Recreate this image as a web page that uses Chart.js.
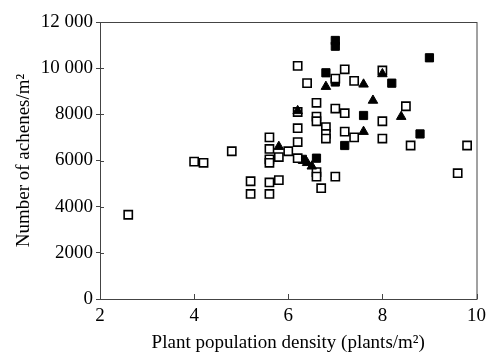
<!DOCTYPE html>
<html>
<head>
<meta charset="utf-8">
<script src="https://cdn.jsdelivr.net/npm/chart.js@4.4.1/dist/chart.umd.min.js"></script>
<style>
  html, body { margin: 0; padding: 0; background: #fff; }
  #wrap { width: 492px; height: 354px; }
</style>
</head>
<body>
<div id="wrap"><canvas id="chart" width="492" height="354"></canvas></div>
<script>
// open squares
const openX = [2.6, 4.0, 4.2, 4.8, 5.2, 5.2, 5.6, 5.6, 5.6, 5.6, 5.6, 5.6, 5.8, 5.8, 6.0,
    6.2, 6.2, 6.2, 6.2, 6.2, 6.4, 6.6, 6.6, 6.6, 6.6, 6.6, 6.7, 6.8, 6.8, 6.8,
    7.0, 7.0, 7.0, 7.2, 7.2, 7.2, 7.4, 7.4, 8.0, 8.0, 8.0, 8.5, 8.6, 9.6, 9.8];
const openY = [3650, 5950, 5900, 6400, 5100, 4550, 7000, 6500, 6050, 5900, 5050, 4550, 6150, 5150, 6400,
    10100, 8100, 7400, 6800, 6100, 9350, 8500, 7900, 7700, 5500, 5300, 4800, 7450, 7150, 6950,
    9550, 8250, 5300, 9950, 8050, 7250, 9450, 7000, 9900, 7700, 6950, 8350, 6650, 5450, 6650];

// filled squares
const filledX = [6.3, 6.6, 6.8, 7.0, 7.0, 7.0, 7.2, 7.6, 8.2, 8.8, 9.0];
const filledY = [6050, 6100, 9800, 11200, 10950, 9400, 6650, 7950, 9350, 7150, 10450];

// filled triangles
const triX = [5.8, 6.2, 6.4, 6.5, 6.8, 7.6, 7.6, 7.8, 8.0, 8.4];
const triY = [6600, 8150, 5900, 5750, 9200, 9300, 7250, 8600, 9750, 7900];

const xTickLabels = ['2', '4', '6', '8', '10'];
const yTickLabels = ['0', '2000', '4000', '6000', '8000', '10 000', '12 000'];

const toPoints = (xs, ys) => xs.map((x, i) => ({ x: x, y: ys[i] }));

const FONT = 'Liberation Serif';
const AXIS = '#444';

// frame round the plot plus inward tick marks
const framePlugin = {
    id: 'frame',
    beforeDatasetsDraw(chart) {
        const { ctx, chartArea: a, scales } = chart;
        ctx.save();
        ctx.strokeStyle = AXIS;
        ctx.lineWidth = 1;
        ctx.strokeRect(a.left + 0.5, a.top + 0.5, a.right - a.left, a.bottom - a.top);
        ctx.beginPath();
        scales.x.ticks.forEach(t => {
            const px = Math.round(scales.x.getPixelForValue(t.value)) + 0.5;
            ctx.moveTo(px, a.bottom);
            ctx.lineTo(px, a.bottom - 5);
        });
        scales.y.ticks.forEach(t => {
            const py = Math.round(scales.y.getPixelForValue(t.value)) + 0.5;
            ctx.moveTo(a.left, py);
            ctx.lineTo(a.left + 4, py);
        });
        ctx.stroke();
        ctx.restore();
    }
};

new Chart(document.getElementById('chart'), {
    type: 'scatter',
    data: {
        datasets: [
            {
                label: 'triangles',
                data: toPoints(triX, triY),
                pointStyle: 'triangle',
                radius: 5.5,
                backgroundColor: '#000',
                borderColor: '#000',
                borderWidth: 1
            },
            {
                label: 'open',
                data: toPoints(openX, openY),
                pointStyle: 'rect',
                radius: 5.8,
                backgroundColor: '#fff',
                borderColor: '#000',
                borderWidth: 1.6
            },
            {
                label: 'filled',
                data: toPoints(filledX, filledY),
                pointStyle: 'rect',
                radius: 5.8,
                backgroundColor: '#000',
                borderColor: '#000',
                borderWidth: 1
            }
        ]
    },
    options: {
        responsive: false,
        animation: false,
        devicePixelRatio: 1,
        layout: { padding: { top: 22, right: 13, bottom: 0, left: 0 } },
        plugins: {
            legend: { display: false },
            tooltip: { enabled: false }
        },
        scales: {
            x: {
                type: 'linear',
                min: 2,
                max: 10,
                afterFit: (scale) => { scale.height = 55; },
                border: { display: false },
                grid: { drawOnChartArea: false, drawTicks: false },
                ticks: {
                    stepSize: 2,
                    padding: 6,
                    color: '#000',
                    font: { family: FONT, size: 19 },
                    callback: (v, i) => xTickLabels[i]
                },
                title: {
                    display: true,
                    text: 'Plant population density (plants/m²)',
                    color: '#000',
                    font: { family: FONT, size: 19 },
                    padding: { top: 0, bottom: 0 }
                }
            },
            y: {
                type: 'linear',
                min: 0,
                max: 12000,
                afterFit: (scale) => { scale.width = 100; },
                border: { display: false },
                grid: { drawOnChartArea: false, drawTicks: true, tickLength: 4, color: AXIS },
                ticks: {
                    stepSize: 2000,
                    padding: 3,
                    color: '#000',
                    font: { family: FONT, size: 19 },
                    callback: (v, i) => yTickLabels[i]
                },
                title: {
                    display: true,
                    text: 'Number of achenes/m²',
                    color: '#000',
                    font: { family: FONT, size: 19 },
                    padding: { top: 13, bottom: 0 }
                }
            }
        }
    },
    plugins: [framePlugin]
});
</script>
</body>
</html>
